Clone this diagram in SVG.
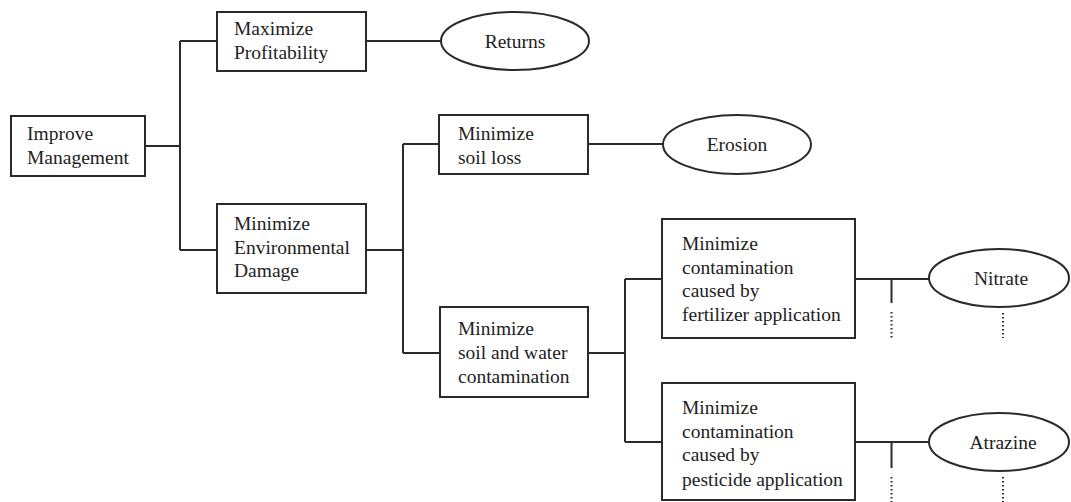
<svg xmlns="http://www.w3.org/2000/svg" width="1071" height="502" viewBox="0 0 1071 502">
<style>
.box{fill:#fff;stroke:#2a2a2a;stroke-width:2}
.ell{fill:#fff;stroke:#2a2a2a;stroke-width:2}
.t{font-family:"Liberation Serif","Times New Roman",serif;font-size:19.5px;fill:#222}
.c{text-anchor:middle}
.ln{fill:none;stroke:#2a2a2a;stroke-width:2}
.dot{fill:none;stroke:#2a2a2a;stroke-width:2;stroke-dasharray:1.5 2.5}
</style>
<rect width="1071" height="502" fill="#fff"/>
<g id="connectors">
<path class="ln" d="M145 146H180M180 41V250M180 41H217M180 250H217M366 41H441M366 250H403M403 144V353M403 144H439M403 353H440M588 144H663M588 353H625M625 279V442M625 279H662M625 442H662M855 279H929M855 442H929M891.5 279V303M891.5 442V468"/>
<path class="dot" d="M891.5 312V338M891.5 477V502M1003 313V338M1003 477V502"/>
</g>
<g id="n_improve">
<rect class="box" x="11" y="116" width="134" height="60"/>
<text class="t" x="27" y="140">Improve</text>
<text class="t" x="27" y="164">Management</text>
</g>
<g id="n_profit">
<rect class="box" x="217" y="12" width="149" height="59"/>
<text class="t" x="234" y="35">Maximize</text>
<text class="t" x="234" y="59">Profitability</text>
</g>
<g id="n_env">
<rect class="box" x="217" y="204" width="149" height="89"/>
<text class="t" x="234" y="230">Minimize</text>
<text class="t" x="234" y="254">Environmental</text>
<text class="t" x="234" y="277">Damage</text>
</g>
<g id="n_soilloss">
<rect class="box" x="439" y="115" width="149" height="59"/>
<text class="t" x="458" y="140">Minimize</text>
<text class="t" x="458" y="164">soil loss</text>
</g>
<g id="n_soilwater">
<rect class="box" x="440" y="307" width="148" height="90"/>
<text class="t" x="458" y="335">Minimize</text>
<text class="t" x="458" y="359">soil and water</text>
<text class="t" x="458" y="383">contamination</text>
</g>
<g id="n_fert">
<rect class="box" x="662" y="219" width="193" height="119"/>
<text class="t" x="682" y="250">Minimize</text>
<text class="t" x="682" y="273.5">contamination</text>
<text class="t" x="682" y="297">caused by</text>
<text class="t" x="682" y="320.5">fertilizer application</text>
</g>
<g id="n_pest">
<rect class="box" x="662" y="383" width="193" height="117"/>
<text class="t" x="682" y="414">Minimize</text>
<text class="t" x="682" y="437.5">contamination</text>
<text class="t" x="682" y="461">caused by</text>
<text class="t" x="682" y="486">pesticide application</text>
</g>
<g id="n_returns">
<ellipse class="ell" cx="515" cy="41" rx="74" ry="29"/>
<text class="t c" x="515" y="48">Returns</text>
</g>
<g id="n_erosion">
<ellipse class="ell" cx="737" cy="144.5" rx="74" ry="29.5"/>
<text class="t c" x="737" y="151">Erosion</text>
</g>
<g id="n_nitrate">
<ellipse class="ell" cx="999" cy="278" rx="70" ry="29"/>
<text class="t c" x="1001" y="285">Nitrate</text>
</g>
<g id="n_atrazine">
<ellipse class="ell" cx="999" cy="442" rx="70" ry="29"/>
<text class="t c" x="1003" y="449">Atrazine</text>
</g>
</svg>
